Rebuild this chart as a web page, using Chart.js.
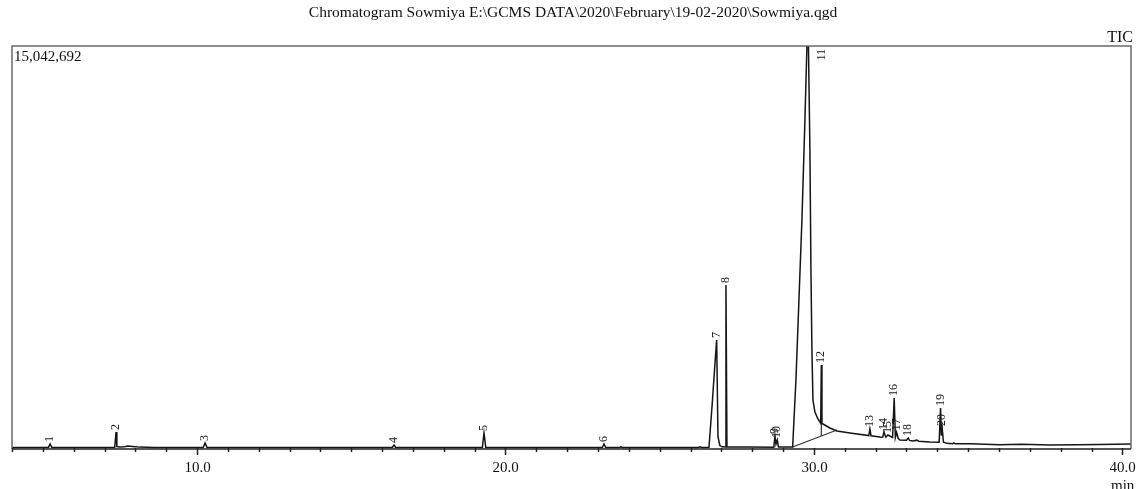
<!DOCTYPE html>
<html>
<head>
<meta charset="utf-8">
<script src="https://cdn.jsdelivr.net/npm/chart.js@4.4.1/dist/chart.umd.min.js"></script>
<style>
  html, body { margin: 0; padding: 0; background: #fff; }
  #wrap { width: 1136px; height: 489px; }
</style>
</head>
<body>
<div id="wrap"><canvas id="cromatograma" width="1136" height="489"></canvas></div>
<script>
// Chromatogram data
const fullScale = 15042692;

const tempos = [
  4.00, 5.18, 5.235, 5.29, 7.33, 7.374, 7.40, 7.50, 7.65, 7.76, 7.90, 8.15, 8.60,
  10.20, 10.259, 10.32, 16.33, 16.386, 16.44, 19.25, 19.303, 19.36,
  23.14, 23.193, 23.25, 23.70, 23.744, 23.79, 26.25, 26.305, 26.36,
  26.597, 26.70, 26.78, 26.846, 26.89, 26.95, 27.02, 27.12, 27.148, 27.18,
  28.70, 28.737, 28.77, 28.811, 28.85, 29.31,
  29.417, 29.514, 29.611, 29.708, 29.773, 29.822, 29.870, 29.903, 29.935, 29.968,
  30.032, 30.130, 30.22, 30.24, 30.26, 30.292, 30.519, 30.746, 31.167,
  31.78, 31.815, 31.85, 32.139, 32.23, 32.269, 32.33, 32.398, 32.55, 32.602, 32.64,
  32.68, 32.73, 32.787, 33.00, 33.056, 33.10, 33.208, 33.338, 33.40, 33.759,
  34.06, 34.106, 34.13, 34.158, 34.20, 34.311, 34.50, 34.538, 34.58,
  35.06, 36.03, 36.73, 37.65, 38.50, 39.27, 40.28
];

const intensidades = [
  56000, 60000, 187000, 60000, 60000, 635000, 90000, 75000, 85000, 112000, 95000, 70000, 60000,
  56000, 224000, 60000, 56000, 150000, 56000, 56000, 597000, 60000,
  56000, 187000, 56000, 56000, 90000, 56000, 60000, 80000, 60000,
  65000, 1650000, 3000000, 4069000, 450000, 130000, 80000, 75000, 6122000, 80000,
  65000, 485000, 180000, 336000, 75000, 75000,
  2576000, 5562000, 8548000, 12281000, 15042692, 15042692, 11161000, 6682000, 3695000, 1829000,
  1380000, 1120000, 960000, 3135000, 950000, 933000, 784000, 672000, 597000,
  500000, 747000, 495000, 448000, 440000, 635000, 440000, 523000, 430000, 1904000, 430000,
  620000, 400000, 336000, 330000, 411000, 320000, 299000, 330000, 290000, 261000,
  250000, 1530000, 500000, 784000, 250000, 210000, 200000, 230000, 195000,
  200000, 160000, 175000, 150000, 160000, 170000, 187000
];

// Integration baseline under peak 11 and drop line of peak 12
const baseTempos = [29.31, 30.746];
const baseValores = [75000, 709000];
const quedaTempos = [30.24, 30.24];
const quedaValores = [950000, 486000];

// Peak labels
const picoIds = ["1", "2", "3", "4", "5", "6", "7", "8", "9", "10", "11", "12", "13",
  "14", "15", "16", "17", "18", "19", "20"];
const picoTempos = [5.235, 7.374, 10.259, 16.386, 19.303, 23.193, 26.846, 27.148, 28.737, 28.811,
  29.80, 30.24, 31.815, 32.269, 32.398, 32.602, 32.68, 33.056, 34.106, 34.158];
const picoTopos = [187000, 635000, 224000, 150000, 597000, 187000, 4069000, 6122000, 485000, 336000,
  15042692, 3135000, 747000, 635000, 523000, 1904000, 620000, 411000, 1530000, 784000];

const tituloTexto = "Chromatogram Sowmiya E:\\GCMS DATA\\2020\\February\\19-02-2020\\Sowmiya.qgd";
const serif = "'Liberation Serif', 'Times New Roman', serif";

function pontos(xs, ys) {
  return xs.map((x, i) => ({ x: x, y: ys[i] }));
}

// Frame, ticks, labels and texts
const decoracao = {
  id: "decoracao",
  afterDraw(chart) {
    const ctx = chart.ctx;
    const area = chart.chartArea;
    const sx = chart.scales.x;
    const sy = chart.scales.y;
    ctx.save();

    // box
    ctx.strokeStyle = "#6a6a6a";
    ctx.lineWidth = 1.5;
    ctx.beginPath();
    ctx.moveTo(area.left, area.bottom);
    ctx.lineTo(area.left, area.top);
    ctx.lineTo(area.right, area.top);
    ctx.lineTo(area.right, area.bottom);
    ctx.stroke();

    // time axis with one tick per minute
    ctx.strokeStyle = "#222";
    ctx.lineWidth = 1.5;
    ctx.beginPath();
    ctx.moveTo(area.left, area.bottom);
    ctx.lineTo(area.right, area.bottom);
    ctx.fillStyle = "#111";
    ctx.font = "15px " + serif;
    ctx.textAlign = "center";
    ctx.textBaseline = "middle";
    for (let m = Math.ceil(sx.min); m <= Math.floor(sx.max); m++) {
      const px = Math.round(sx.getPixelForValue(m)) + 0.5;
      const len = m % 10 === 0 ? 6 : 3;
      ctx.moveTo(px, area.bottom - 1);
      ctx.lineTo(px, area.bottom + len);
      if (m % 10 === 0) ctx.fillText(m.toFixed(1), px, area.bottom + 19);
    }
    ctx.stroke();

    // peak numbers, rotated
    ctx.fillStyle = "#1a1a1a";
    ctx.font = "12px " + serif;
    ctx.textBaseline = "middle";
    ctx.textAlign = "left";
    picoIds.forEach((id, i) => {
      let px = sx.getPixelForValue(picoTempos[i]);
      let py = sy.getPixelForValue(picoTopos[i]) - 2;
      const w = ctx.measureText(id).width;
      if (py - w < area.top) {
        // off-scale peak: label beside it at the top
        px += 14;
        py = area.top + w + 3;
      }
      ctx.save();
      ctx.translate(px, py);
      ctx.rotate(-Math.PI / 2);
      ctx.fillText(id, 0, 0);
      ctx.restore();
    });

    // texts
    ctx.fillStyle = "#111";
    ctx.font = "15.5px " + serif;
    ctx.textAlign = "center";
    ctx.fillText(tituloTexto, 573, 13);
    ctx.font = "15px " + serif;
    ctx.textAlign = "left";
    ctx.fillText("15,042,692", area.left + 2, 57);
    ctx.textAlign = "right";
    ctx.font = "16px " + serif;
    ctx.fillText("TIC", 1133, 38);
    ctx.textAlign = "left";
    ctx.font = "15px " + serif;
    ctx.fillText("min", 1111, 486);
    ctx.restore();
  }
};

function desenharCromatograma() {
  const ctx = document.getElementById("cromatograma").getContext("2d");

  new Chart(ctx, {
    type: "line",
    data: {
      datasets: [
        {
          label: "TIC",
          data: pontos(tempos, intensidades),
          borderColor: "#151515",
          borderWidth: 1.5,
          pointRadius: 0,
          tension: 0
        },
        {
          label: "baseline",
          data: pontos(baseTempos, baseValores),
          borderColor: "#333",
          borderWidth: 1.2,
          pointRadius: 0
        },
        {
          label: "drop",
          data: pontos(quedaTempos, quedaValores),
          borderColor: "#333",
          borderWidth: 1.2,
          pointRadius: 0
        }
      ]
    },
    options: {
      responsive: false,
      animation: false,
      layout: { padding: { left: 12, right: 5, top: 46, bottom: 0 } },
      plugins: {
        legend: { display: false },
        tooltip: { enabled: false },
        title: { display: false }
      },
      scales: {
        x: {
          type: "linear",
          min: 4.0,
          max: 40.28,
          afterFit: scale => { scale.height = 40; },
          grid: { display: false, drawTicks: false },
          border: { display: false },
          ticks: { display: false }
        },
        y: {
          display: false,
          min: 0,
          max: fullScale
        }
      }
    },
    plugins: [decoracao]
  });
}

desenharCromatograma();
</script>
</body>
</html>
